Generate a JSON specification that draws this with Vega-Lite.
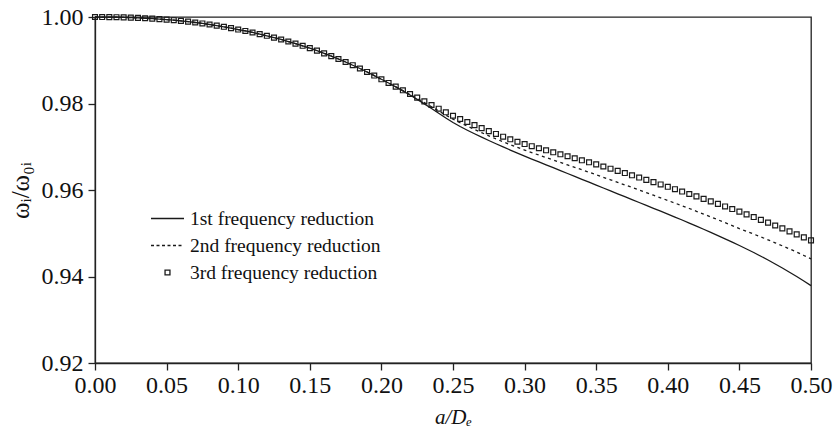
{
  "$schema": "https://vega.github.io/schema/vega-lite/v6.json",
  "autosize": {"type": "none"},
  "padding": {"left": 95, "top": 17, "right": 25, "bottom": 67},
  "width": 716,
  "height": 346,
  "background": "white",
  "config": {
    "view": {"stroke": "#222", "strokeWidth": 1.3},
    "font": "Liberation Serif",
    "axis": {
      "grid": false,
      "domainColor": "#222",
      "domainWidth": 1.3,
      "tickColor": "#222",
      "tickWidth": 1.3,
      "tickSize": 7,
      "labelFont": "Liberation Serif",
      "labelFontSize": 24,
      "labelColor": "#111",
      "labelFlush": false,
      "labelOverlap": false,
      "titleFont": "Liberation Serif",
      "titleColor": "#111",
      "titleFontWeight": "normal",
      "titleFontSize": 21
    },
    "axisX": {"labelPadding": 3, "titleFontStyle": "italic", "titleX": 358, "titleY": 60, "titleBaseline": "alphabetic", "titleAlign": "center"},
    "axisY": {"labelPadding": 5, "titleX": -75, "titleY": 173, "titleBaseline": "middle", "titleAlign": "center", "titleAngle": -90, "titleFontSize": 25}
  },
  "data": {
    "values": [
      {"x": 0.000, "a": 1.00000, "b": 1.00000, "c": 1.00000},
      {"x": 0.005, "a": 0.99999, "b": 0.99999, "c": 0.99999},
      {"x": 0.010, "a": 0.99998, "b": 0.99998, "c": 0.99998},
      {"x": 0.015, "a": 0.99995, "b": 0.99995, "c": 0.99995},
      {"x": 0.020, "a": 0.99991, "b": 0.99991, "c": 0.99991},
      {"x": 0.025, "a": 0.99986, "b": 0.99986, "c": 0.99986},
      {"x": 0.030, "a": 0.99979, "b": 0.99979, "c": 0.99979},
      {"x": 0.035, "a": 0.99971, "b": 0.99971, "c": 0.99971},
      {"x": 0.040, "a": 0.99962, "b": 0.99962, "c": 0.99962},
      {"x": 0.045, "a": 0.99951, "b": 0.99951, "c": 0.99951},
      {"x": 0.050, "a": 0.99940, "b": 0.99940, "c": 0.99940},
      {"x": 0.055, "a": 0.99926, "b": 0.99926, "c": 0.99926},
      {"x": 0.060, "a": 0.99910, "b": 0.99910, "c": 0.99910},
      {"x": 0.065, "a": 0.99892, "b": 0.99892, "c": 0.99892},
      {"x": 0.070, "a": 0.99873, "b": 0.99873, "c": 0.99873},
      {"x": 0.075, "a": 0.99851, "b": 0.99851, "c": 0.99851},
      {"x": 0.080, "a": 0.99827, "b": 0.99827, "c": 0.99827},
      {"x": 0.085, "a": 0.99801, "b": 0.99801, "c": 0.99801},
      {"x": 0.090, "a": 0.99773, "b": 0.99773, "c": 0.99773},
      {"x": 0.095, "a": 0.99743, "b": 0.99743, "c": 0.99743},
      {"x": 0.100, "a": 0.99710, "b": 0.99710, "c": 0.99710},
      {"x": 0.105, "a": 0.99677, "b": 0.99677, "c": 0.99677},
      {"x": 0.110, "a": 0.99642, "b": 0.99642, "c": 0.99642},
      {"x": 0.115, "a": 0.99605, "b": 0.99605, "c": 0.99605},
      {"x": 0.120, "a": 0.99565, "b": 0.99565, "c": 0.99565},
      {"x": 0.125, "a": 0.99523, "b": 0.99523, "c": 0.99523},
      {"x": 0.130, "a": 0.99480, "b": 0.99480, "c": 0.99480},
      {"x": 0.135, "a": 0.99433, "b": 0.99433, "c": 0.99433},
      {"x": 0.140, "a": 0.99385, "b": 0.99385, "c": 0.99385},
      {"x": 0.145, "a": 0.99334, "b": 0.99334, "c": 0.99334},
      {"x": 0.150, "a": 0.99280, "b": 0.99280, "c": 0.99280},
      {"x": 0.155, "a": 0.99222, "b": 0.99222, "c": 0.99222},
      {"x": 0.160, "a": 0.99160, "b": 0.99160, "c": 0.99160},
      {"x": 0.165, "a": 0.99096, "b": 0.99096, "c": 0.99096},
      {"x": 0.170, "a": 0.99029, "b": 0.99029, "c": 0.99029},
      {"x": 0.175, "a": 0.98959, "b": 0.98959, "c": 0.98959},
      {"x": 0.180, "a": 0.98885, "b": 0.98885, "c": 0.98885},
      {"x": 0.185, "a": 0.98809, "b": 0.98809, "c": 0.98809},
      {"x": 0.190, "a": 0.98729, "b": 0.98729, "c": 0.98729},
      {"x": 0.195, "a": 0.98646, "b": 0.98646, "c": 0.98646},
      {"x": 0.200, "a": 0.98560, "b": 0.98560, "c": 0.98560},
      {"x": 0.205, "a": 0.98473, "b": 0.98474, "c": 0.98475},
      {"x": 0.210, "a": 0.98384, "b": 0.98387, "c": 0.98390},
      {"x": 0.215, "a": 0.98292, "b": 0.98298, "c": 0.98305},
      {"x": 0.220, "a": 0.98196, "b": 0.98208, "c": 0.98220},
      {"x": 0.225, "a": 0.98096, "b": 0.98115, "c": 0.98135},
      {"x": 0.230, "a": 0.97992, "b": 0.98021, "c": 0.98050},
      {"x": 0.235, "a": 0.97885, "b": 0.97925, "c": 0.97965},
      {"x": 0.240, "a": 0.97775, "b": 0.97827, "c": 0.97880},
      {"x": 0.245, "a": 0.97664, "b": 0.97730, "c": 0.97797},
      {"x": 0.250, "a": 0.97560, "b": 0.97638, "c": 0.97717},
      {"x": 0.255, "a": 0.97468, "b": 0.97555, "c": 0.97642},
      {"x": 0.260, "a": 0.97382, "b": 0.97477, "c": 0.97572},
      {"x": 0.265, "a": 0.97300, "b": 0.97400, "c": 0.97500},
      {"x": 0.270, "a": 0.97221, "b": 0.97325, "c": 0.97430},
      {"x": 0.275, "a": 0.97144, "b": 0.97253, "c": 0.97362},
      {"x": 0.280, "a": 0.97069, "b": 0.97182, "c": 0.97296},
      {"x": 0.285, "a": 0.96996, "b": 0.97114, "c": 0.97232},
      {"x": 0.290, "a": 0.96924, "b": 0.97048, "c": 0.97172},
      {"x": 0.295, "a": 0.96853, "b": 0.96984, "c": 0.97116},
      {"x": 0.300, "a": 0.96783, "b": 0.96923, "c": 0.97063},
      {"x": 0.305, "a": 0.96716, "b": 0.96864, "c": 0.97013},
      {"x": 0.310, "a": 0.96649, "b": 0.96807, "c": 0.96965},
      {"x": 0.315, "a": 0.96582, "b": 0.96750, "c": 0.96918},
      {"x": 0.320, "a": 0.96515, "b": 0.96693, "c": 0.96872},
      {"x": 0.325, "a": 0.96448, "b": 0.96637, "c": 0.96826},
      {"x": 0.330, "a": 0.96381, "b": 0.96580, "c": 0.96780},
      {"x": 0.335, "a": 0.96314, "b": 0.96524, "c": 0.96734},
      {"x": 0.340, "a": 0.96247, "b": 0.96467, "c": 0.96687},
      {"x": 0.345, "a": 0.96180, "b": 0.96410, "c": 0.96640},
      {"x": 0.350, "a": 0.96113, "b": 0.96352, "c": 0.96592},
      {"x": 0.355, "a": 0.96046, "b": 0.96294, "c": 0.96543},
      {"x": 0.360, "a": 0.95979, "b": 0.96236, "c": 0.96493},
      {"x": 0.365, "a": 0.95912, "b": 0.96177, "c": 0.96443},
      {"x": 0.370, "a": 0.95845, "b": 0.96118, "c": 0.96392},
      {"x": 0.375, "a": 0.95778, "b": 0.96059, "c": 0.96340},
      {"x": 0.380, "a": 0.95711, "b": 0.95999, "c": 0.96288},
      {"x": 0.385, "a": 0.95644, "b": 0.95939, "c": 0.96235},
      {"x": 0.390, "a": 0.95577, "b": 0.95879, "c": 0.96182},
      {"x": 0.395, "a": 0.95510, "b": 0.95819, "c": 0.96128},
      {"x": 0.400, "a": 0.95443, "b": 0.95758, "c": 0.96074},
      {"x": 0.405, "a": 0.95375, "b": 0.95697, "c": 0.96019},
      {"x": 0.410, "a": 0.95306, "b": 0.95635, "c": 0.95964},
      {"x": 0.415, "a": 0.95236, "b": 0.95572, "c": 0.95908},
      {"x": 0.420, "a": 0.95165, "b": 0.95508, "c": 0.95852},
      {"x": 0.425, "a": 0.95093, "b": 0.95444, "c": 0.95795},
      {"x": 0.430, "a": 0.95020, "b": 0.95378, "c": 0.95737},
      {"x": 0.435, "a": 0.94946, "b": 0.95312, "c": 0.95679},
      {"x": 0.440, "a": 0.94871, "b": 0.95245, "c": 0.95620},
      {"x": 0.445, "a": 0.94794, "b": 0.95177, "c": 0.95560},
      {"x": 0.450, "a": 0.94716, "b": 0.95107, "c": 0.95499},
      {"x": 0.455, "a": 0.94636, "b": 0.95045, "c": 0.95437},
      {"x": 0.460, "a": 0.94554, "b": 0.94980, "c": 0.95374},
      {"x": 0.465, "a": 0.94469, "b": 0.94915, "c": 0.95310},
      {"x": 0.470, "a": 0.94381, "b": 0.94848, "c": 0.95245},
      {"x": 0.475, "a": 0.94290, "b": 0.94779, "c": 0.95179},
      {"x": 0.480, "a": 0.94196, "b": 0.94709, "c": 0.95112},
      {"x": 0.485, "a": 0.94099, "b": 0.94638, "c": 0.95044},
      {"x": 0.490, "a": 0.93999, "b": 0.94565, "c": 0.94975},
      {"x": 0.495, "a": 0.93896, "b": 0.94486, "c": 0.94905},
      {"x": 0.500, "a": 0.93790, "b": 0.94407, "c": 0.94835}
    ]
  },
  "layer": [
    {
      "mark": {"type": "line", "strokeWidth": 1.3},
      "encoding": {
        "x": {"field": "x", "type": "quantitative", "scale": {"domain": [0, 0.5], "nice": false}, "title": "a/Dₑ", "axis": {"values": [0, 0.05, 0.1, 0.15, 0.2, 0.25, 0.3, 0.35, 0.4, 0.45, 0.5], "format": ".2f"}},
        "y": {"field": "a", "type": "quantitative", "scale": {"domain": [0.92, 1.0], "nice": false, "zero": false}, "title": "ωᵢ/ω₀ᵢ", "axis": {"values": [0.92, 0.94, 0.96, 0.98, 1.0], "format": ".2f"}},
        "color": {
          "datum": "1st frequency reduction",
          "type": "nominal",
          "scale": {"domain": ["1st frequency reduction", "2nd frequency reduction", "3rd frequency reduction"], "range": ["#1a1a1a", "#1a1a1a", "#1a1a1a"]},
          "legend": {
            "title": null,
            "orient": "none",
            "legendX": 55,
            "legendY": 184,
            "labelFont": "Liberation Serif",
            "labelFontSize": 19.5,
            "labelColor": "#111",
            "labelOffset": 5,
            "labelLimit": 400,
            "rowPadding": -1,
            "symbolType": "stroke",
            "symbolSize": 1089,
            "symbolStrokeWidth": 1.3,
            "encode": {
              "symbols": {
                "update": {
                  "shape": {"signal": "datum.value === '3rd frequency reduction' ? 'square' : 'stroke'"},
                  "size": {"signal": "datum.value === '3rd frequency reduction' ? 24 : 1089"},
                  "strokeDash": {"signal": "datum.value === '2nd frequency reduction' ? [3, 2.5] : [1, 0]"},
                  "stroke": {"value": "#1a1a1a"},
                  "fill": {"value": "transparent"},
                  "strokeWidth": {"value": 1.3}
                }
              }
            }
          }
        }
      }
    },
    {
      "mark": {"type": "line", "strokeWidth": 1.3, "strokeDash": [3, 3.5]},
      "encoding": {
        "x": {"field": "x", "type": "quantitative", "title": "a/Dₑ"},
        "y": {"field": "b", "type": "quantitative", "title": "ωᵢ/ω₀ᵢ"},
        "color": {"datum": "2nd frequency reduction", "type": "nominal"}
      }
    },
    {
      "mark": {"type": "point", "shape": "square", "size": 24, "filled": false, "strokeWidth": 1.2, "opacity": 1},
      "encoding": {
        "x": {"field": "x", "type": "quantitative", "title": "a/Dₑ"},
        "y": {"field": "c", "type": "quantitative", "title": "ωᵢ/ω₀ᵢ"},
        "color": {"datum": "3rd frequency reduction", "type": "nominal"}
      }
    }
  ]
}
